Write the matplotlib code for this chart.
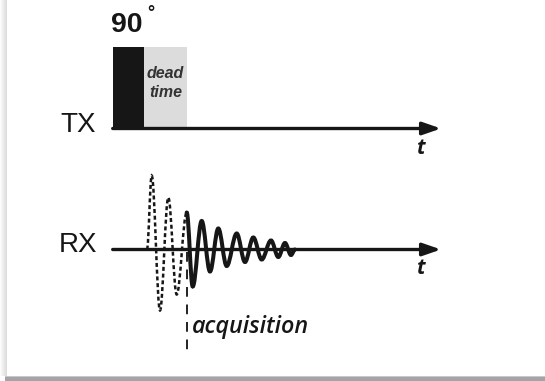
import numpy as np
import matplotlib
matplotlib.use("Agg")
import matplotlib.pyplot as plt
from matplotlib.path import Path
from matplotlib.patches import PathPatch, Rectangle

# pulse timing (same horizontal units as the drawing)
pulse_on = 112.7
pulse_off = 144.3
dead_end = 186.7
pulse_amp = 82.0
t_end = 441.0

# FID extrema: times and amplitudes above the RX baseline
fid_t = [147.0, 151.7, 160.0, 168.3, 176.7, 186.7, 192.7, 201.7, 210.0, 218.3,
         226.7, 236.7, 245.0, 253.3, 261.7, 271.0, 278.3, 285.0, 291.0, 295.0]
fid_a = [0.0, 74.0, -61.0, 52.0, -45.0, 37.0, -37.0, 28.5, -22.0, 21.0,
         -16.5, 16.0, -12.5, 12.0, -10.0, 9.0, -7.5, 6.5, -5.5, 0.0]
acq_index = 5  # receiver opens at the end of the dead time

W, H = 545, 381
TX_Y = 252.5
RX_Y = 131.5
INK = "#161616"


def fid_path(ts, amps, base):
    # half-wave cubic segments with flat tangents at every extremum
    k = 0.363
    verts = [(ts[0], base + amps[0])]
    codes = [Path.MOVETO]
    for (x0, a0), (x1, a1) in zip(zip(ts[:-1], amps[:-1]), zip(ts[1:], amps[1:])):
        dx = x1 - x0
        verts += [(x0 + k * dx, base + a0), (x1 - k * dx, base + a1), (x1, base + a1)]
        codes += [Path.CURVE4] * 3
    return Path(verts, codes)


fig = plt.figure(figsize=(W / 100, H / 100), dpi=100)
ax = fig.add_axes([0, 0, 1, 1])
ax.set_xlim(0, W)
ax.set_ylim(0, H)
ax.axis("off")

# card shadow
shade = np.linspace(0.99, 0.86, 8)[None, :]
ax.imshow(np.repeat(shade, 2, axis=0), cmap="gray", vmin=0, vmax=1,
          extent=[0, 7, 5, H], aspect="auto", interpolation="bilinear", zorder=0)
ax.add_patch(Rectangle((5, 0), W - 5, 5, color="#a4a4a4", lw=0, zorder=0))
ax.add_patch(Rectangle((5, 4), W - 5, 1.5, color="#c8c8c8", lw=0, zorder=0))

# TX: 90 degree pulse and dead time
ax.add_patch(Rectangle((pulse_on, TX_Y), pulse_off - pulse_on, pulse_amp,
                       color=INK, lw=0, zorder=2))
ax.add_patch(Rectangle((pulse_off, TX_Y), dead_end - pulse_off, pulse_amp,
                       color="#dcdcdc", lw=0, zorder=2))

arrow = dict(arrowstyle="-|>,head_length=1.1,head_width=0.38", lw=2.4,
             color=INK, shrinkA=0, shrinkB=0, mutation_scale=10)
for y in (TX_Y, RX_Y):
    ax.annotate("", xy=(t_end, y), xytext=(pulse_on, y), arrowprops=arrow, zorder=3)

# RX: free induction decay, dotted while the receiver is blanked
ax.add_patch(PathPatch(fid_path(fid_t[:acq_index + 1], fid_a[:acq_index + 1], RX_Y),
                       fill=False, ec=INK, lw=1.8, ls=(0, (1.6, 1.1)),
                       capstyle="butt", zorder=4))
ax.add_patch(PathPatch(fid_path(fid_t[acq_index:], fid_a[acq_index:], RX_Y),
                       fill=False, ec=INK, lw=2.9, capstyle="round", zorder=5))

# start of acquisition
ax.plot([dead_end, dead_end], [RX_Y - 2, 29], color="#222222", lw=1.4,
        ls=(0, (5, 4)), zorder=4)

sans = "Liberation Sans"
ax.text(111.5, 349.3, "90", fontsize=20.5, fontweight="bold", family=sans,
        color=INK, va="baseline", ha="left")
ax.text(150.5, 363.0, "°", fontsize=13, fontweight="bold", family=sans,
        color=INK, va="baseline", ha="center")
ax.text(165.5, 302.7, "dead", fontsize=11.5, fontweight="bold", style="italic",
        family=sans, color="#333333", ha="center", va="baseline")
ax.text(165.5, 284.3, "time", fontsize=11.5, fontweight="bold", style="italic",
        family=sans, color="#333333", ha="center", va="baseline")
ax.text(78.3, TX_Y - 3, "TX", fontsize=20, family=sans, color=INK,
        ha="center", va="baseline")
ax.text(78.3, RX_Y - 2, "RX", fontsize=20, family=sans, color=INK,
        ha="center", va="baseline")
for y in (TX_Y, RX_Y):
    ax.text(420.5, y - 25, "t", fontsize=15, fontweight="bold", style="italic",
            family="Open Sans", color=INK, ha="center", va="baseline")
ax.text(192, 48, "acquisition", fontsize=16.8, fontweight="semibold", style="italic",
        family="Open Sans", color=INK, ha="left", va="baseline")

fig.savefig("out.png", dpi=100, facecolor="white")
